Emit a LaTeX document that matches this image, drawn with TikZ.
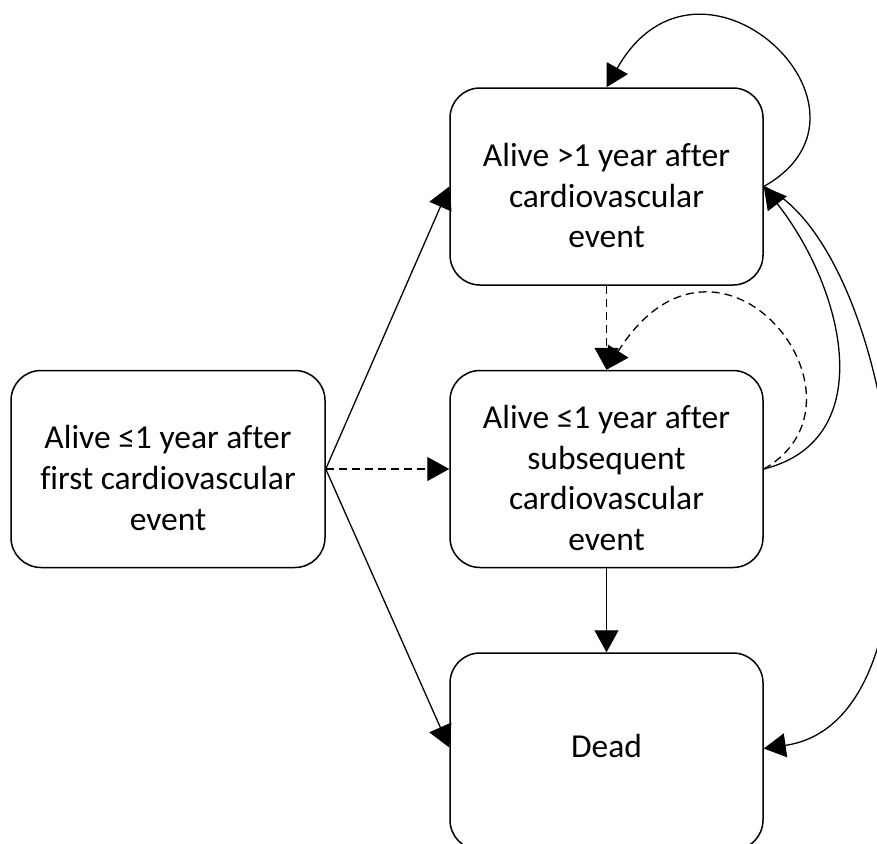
\documentclass[tikz,border=0pt]{standalone}
\usepackage{fontspec}
\setmainfont{Carlito}[Ligatures=CommonOff]
\usetikzlibrary{arrows.meta}
\begin{document}
\begin{tikzpicture}[x=1pt,y=-1pt,
  state/.style={draw, line width=1.5pt, rounded corners=30pt, minimum width=313pt, minimum height=197pt, inner sep=0pt},
  lbl/.style={align=center, font=\fontsize{33.5}{40.8}\selectfont, inner sep=0pt},
  conn/.style={line width=1.3pt, -{Triangle[length=22pt,width=24pt]}},
  dsh/.style={conn, dash pattern=on 8pt off 5pt}]
\useasboundingbox (0,0) rectangle (877,843);
\node[state, minimum width=314pt] (first) at (168,469) {};
\node[state] (top) at (606.5,186.5) {};
\node[state] (mid) at (606.5,469) {};
\node[state] (dead) at (606.5,751.5) {};
\node[lbl] (firstt) at ([yshift=-9pt]first.center) {Alive ≤1 year after\\first cardiovascular\\event};
\node[lbl] (topt) at ([yshift=-9pt]top.center) {Alive >1 year after\\cardiovascular\\event};
\node[lbl] (midt) at ([yshift=-9pt]mid.center) {Alive ≤1 year after\\subsequent\\cardiovascular\\event};
\node[lbl] (deadt) at ([yshift=6pt]dead.center) {Dead};
\draw[conn] (first.east) -- (top.west);
\draw[dsh] (first.east) -- (mid.west);
\draw[conn] (first.east) -- ([yshift=4pt]dead.west);
\draw[dsh] (top.south) -- (mid.north);
\draw[conn] (mid.south) -- (dead.north);
\draw[conn] (top.east) .. controls (900,110) and (700,-78) .. (top.north);
\draw[conn] (mid.east) .. controls (880,440) and (845,290) .. (top.east);
\draw[conn] (top.east) .. controls (900,250) and (960,720) .. ([yshift=3pt]dead.east);
\draw[dsh] (mid.east) .. controls (885,400) and (720,190) .. (mid.north);
\end{tikzpicture}
\end{document}
